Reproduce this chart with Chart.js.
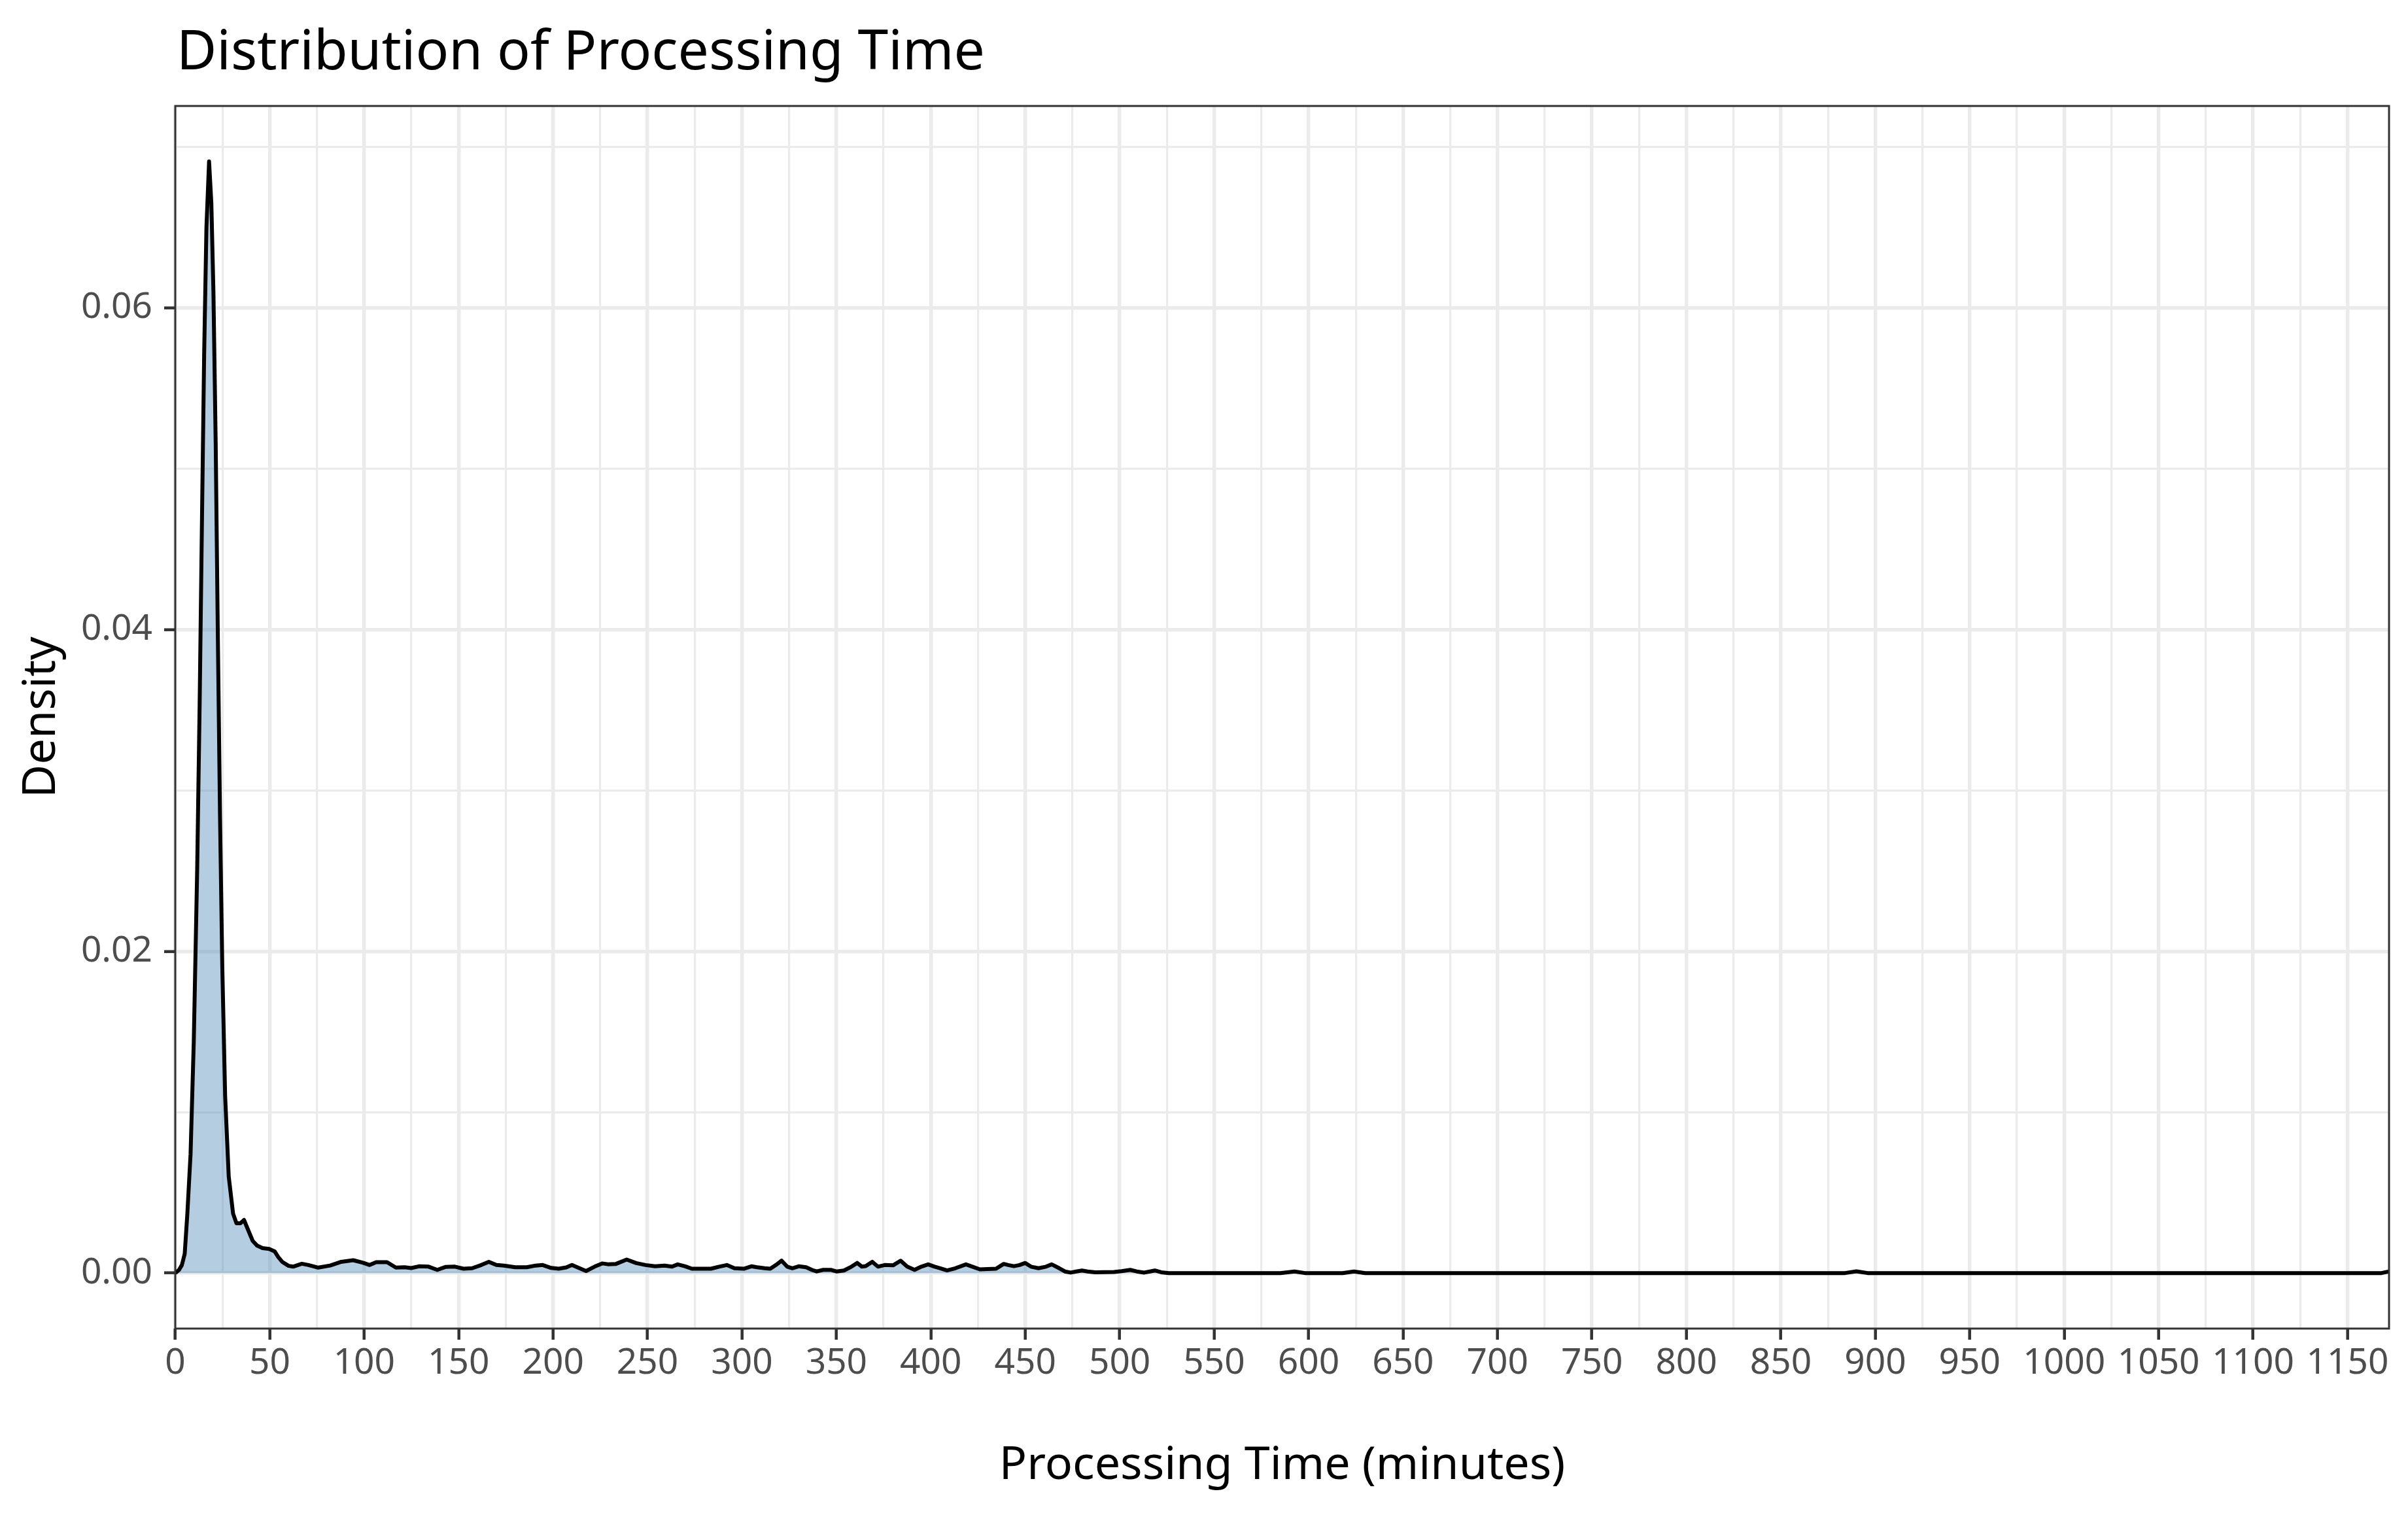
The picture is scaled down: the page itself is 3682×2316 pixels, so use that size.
<!DOCTYPE html>
<html>
<head>
<meta charset="utf-8">
<script src="https://cdn.jsdelivr.net/npm/chart.js@4/dist/chart.umd.min.js"></script>
<style>
  html, body { margin: 0; padding: 0; background: #fff; overflow: hidden; }
  canvas { display: block; }
</style>
</head>
<body>
<canvas id="chart" width="3682" height="2316" style="width:3682px;height:2316px"></canvas>
<script>
const chartTitle = 'Distribution of Processing Time';
const xTitle = 'Processing Time (minutes)';
const yTitle = 'Density';

// values
const processingTime = [
  0, 2, 3.5, 5, 6.4, 8.1, 9.8, 11.6, 12.9, 14.1, 15.3, 16.5, 17.9, 19.1, 20.2, 21.4,
  22.5, 23.7, 24.9, 26.4, 28.3, 30.6, 32.4, 34.5, 36.4, 38.5, 41, 43.4, 46.2, 49.7,
  52.6, 54.5, 56.6, 60, 62.4, 67, 70.5, 75.7, 82, 87.9, 94.2, 99.4, 102.9, 106.4,
  112.1, 116.8, 121.4, 124.9, 129, 134.1, 138.7, 143, 148, 152.6, 157.2, 162, 166,
  170, 174, 180, 186, 190, 194.5, 199, 203, 207, 210, 214, 217.5, 222, 226, 229,
  233.3, 239, 244, 249, 254, 259, 263, 266, 270, 273.5, 278, 283.6, 288, 292, 296,
  301, 305, 308, 312, 315, 318, 321, 324, 326.7, 330, 334, 337, 339.6, 343, 347,
  350, 354, 358, 361, 363.5, 365.5, 369, 372, 375.6, 380, 384, 387.5, 391.4, 395,
  398.6, 402, 405, 408.6, 413, 418.6, 422, 426, 430, 434.5, 438.6, 441, 444, 447,
  450, 453, 457, 461, 464, 468, 471, 474, 477, 480, 483, 487, 492, 497, 501, 505.6,
  509, 513, 516, 518.6, 522, 526, 585, 592.6, 598, 618, 624, 630, 884, 890, 896,
  1168, 1172
];
const densityValue = [
  0, 0.0002, 0.0005, 0.0012, 0.0037, 0.0074, 0.0144, 0.0251, 0.0353, 0.0465, 0.0572,
  0.065, 0.0691, 0.0665, 0.061, 0.0516, 0.04, 0.0283, 0.019, 0.011, 0.006, 0.0037,
  0.0031, 0.0031, 0.0033, 0.0027, 0.002, 0.0017, 0.00155, 0.0015, 0.00135, 0.001,
  0.0007, 0.00045, 0.0004, 0.00058, 0.0005, 0.00034, 0.00047, 0.0007, 0.0008, 0.00064,
  0.0005, 0.00068, 0.00068, 0.00034, 0.00036, 0.00031, 0.00042, 0.0004, 0.0002,
  0.00038, 0.0004, 0.00027, 0.0003, 0.0005, 0.0007, 0.0005, 0.00046, 0.00036, 0.00036,
  0.00045, 0.0005, 0.00032, 0.00027, 0.00035, 0.0005, 0.0003, 0.00013, 0.0004, 0.0006,
  0.00055, 0.00057, 0.00084, 0.00062, 0.0005, 0.00042, 0.00046, 0.0004, 0.00054,
  0.00042, 0.00027, 0.00027, 0.00027, 0.0004, 0.0005, 0.0003, 0.00027, 0.00042,
  0.00036, 0.0003, 0.00027, 0.0005, 0.00077, 0.0004, 0.0003, 0.00042, 0.00036, 0.0002,
  0.0001, 0.0002, 0.0002, 0.0001, 0.00016, 0.0004, 0.00063, 0.0004, 0.00043, 0.0007,
  0.0004, 0.0005, 0.00048, 0.00077, 0.0004, 0.0002, 0.0004, 0.00054, 0.0004, 0.0003,
  0.00016, 0.0003, 0.00054, 0.0004, 0.00023, 0.00025, 0.00027, 0.00057, 0.0005,
  0.00043, 0.0005, 0.00063, 0.0004, 0.0003, 0.0004, 0.00054, 0.0003, 0.0001, 0.00003,
  0.0001, 0.00016, 0.0001, 0.00005, 0.00006, 0.00007, 0.00012, 0.0002, 0.0001, 0.00003,
  0.0001, 0.00016, 0.00005, 0, 0, 0.0001, 0, 0, 0.0001, 0, 0, 0.00011, 0, 0, 0.0001
];

const xTickLabels = [0, 50, 100, 150, 200, 250, 300, 350, 400, 450, 500, 550, 600, 650,
  700, 750, 800, 850, 900, 950, 1000, 1050, 1100, 1150];
const xMinorGrid = [25, 75, 125, 175, 225, 275, 325, 375, 425, 475, 525, 575, 625, 675,
  725, 775, 825, 875, 925, 975, 1025, 1075, 1125];
const yTickLabels = [0, 0.02, 0.04, 0.06];
const yMinorGrid = [0.01, 0.03, 0.05, 0.07];

const xRange = [0, 1172];
const yRange = [-0.00345, 0.07255];

const points = processingTime.map((t, i) => ({ x: t, y: densityValue[i] }));

const gridGrey = '#EBEBEB';
const inkGrey = '#333333';

const isMajor = (list, v) => list.some(m => Math.abs(m - v) < 1e-9);

const headerTitle = {
  id: 'headerTitle',
  afterDraw(chart) {
    const ctx = chart.ctx;
    ctx.save();
    ctx.font = '84px "Noto Sans"';
    ctx.fillStyle = '#000000';
    ctx.textAlign = 'left';
    ctx.textBaseline = 'alphabetic';
    ctx.fillText(chartTitle, chart.chartArea.left + 2, 106);
    ctx.restore();
  }
};

const panelBorder = {
  id: 'panelBorder',
  afterDatasetsDraw(chart) {
    const { ctx, chartArea: a } = chart;
    ctx.save();
    ctx.strokeStyle = inkGrey;
    ctx.lineWidth = 3;
    ctx.strokeRect(a.left, a.top, a.right - a.left, a.bottom - a.top);
    ctx.restore();
  }
};

const chart = new Chart('chart', {
  type: 'line',
  data: {
    datasets: [{
      label: yTitle,
      data: points,
      borderColor: '#000000',
      borderWidth: 6,
      backgroundColor: 'rgba(70,130,180,0.4)',
      fill: 'origin',
      pointRadius: 0,
      tension: 0,
      borderJoinStyle: 'round'
    }]
  },
  options: {
    responsive: false,
    devicePixelRatio: 1,
    animation: false,
    layout: { padding: { top: 162, right: 29, left: 0, bottom: 0 } },
    plugins: {
      legend: { display: false },
      tooltip: { enabled: false },
      title: { display: false }
    },
    scales: {
      x: {
        type: 'linear',
        min: xRange[0],
        max: xRange[1],
        afterFit: s => { s.height = 285; },
        afterBuildTicks: s => {
          s.ticks = xTickLabels.concat(xMinorGrid).sort((a, b) => a - b).map(v => ({ value: v }));
        },
        border: { display: false },
        grid: {
          color: gridGrey,
          lineWidth: c => isMajor(xTickLabels, c.tick.value) ? 5.4 : 3.2,
          tickColor: c => isMajor(xTickLabels, c.tick.value) ? inkGrey : 'rgba(0,0,0,0)',
          tickWidth: 4.5,
          tickLength: 17,
          drawTicks: true
        },
        ticks: {
          autoSkip: false,
          maxRotation: 0,
          padding: 3,
          color: '#4D4D4D',
          font: { family: 'Noto Sans', size: 55 },
          callback: v => isMajor(xTickLabels, v) ? String(v) : ''
        },
        title: {
          display: true,
          text: xTitle,
          color: '#000000',
          font: { family: 'Noto Sans', size: 70 },
          padding: { top: 0, bottom: 33 }
        }
      },
      y: {
        type: 'linear',
        min: yRange[0],
        max: yRange[1],
        afterFit: s => { s.width = 268; },
        afterBuildTicks: s => {
          s.ticks = yTickLabels.concat(yMinorGrid).sort((a, b) => a - b).map(v => ({ value: v }));
        },
        border: { display: false },
        grid: {
          color: gridGrey,
          lineWidth: c => isMajor(yTickLabels, c.tick.value) ? 5.4 : 3.2,
          tickColor: c => isMajor(yTickLabels, c.tick.value) ? inkGrey : 'rgba(0,0,0,0)',
          tickWidth: 4.5,
          tickLength: 17,
          drawTicks: true
        },
        ticks: {
          autoSkip: false,
          padding: 18,
          color: '#4D4D4D',
          font: { family: 'Noto Sans', size: 55 },
          callback: v => isMajor(yTickLabels, v) ? v.toFixed(2) : ''
        },
        title: {
          display: true,
          text: yTitle,
          color: '#000000',
          font: { family: 'Noto Sans', size: 70 },
          padding: { top: 22, bottom: 0 }
        }
      }
    }
  },
  plugins: [headerTitle, panelBorder]
});
</script>
</body>
</html>
